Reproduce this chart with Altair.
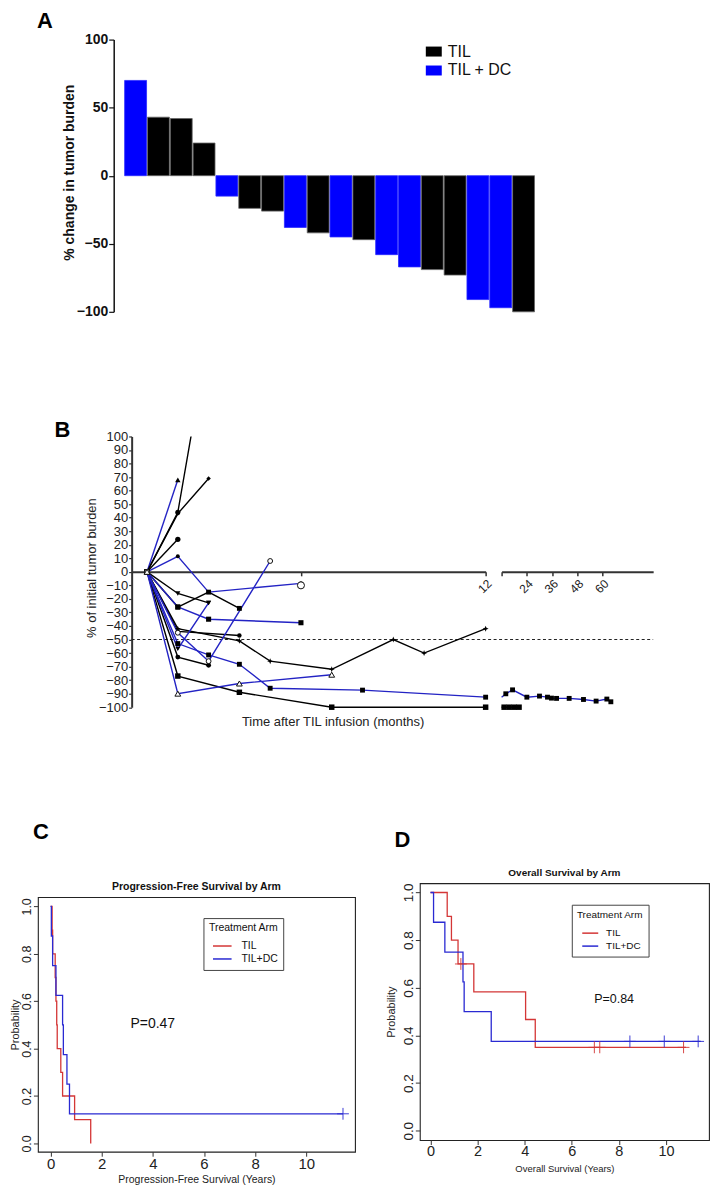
import altair as alt
import pandas as pd

FONT = "Liberation Sans, Arial, Helvetica, sans-serif"
NARROW = "Liberation Sans Narrow, Arial Narrow, Liberation Sans, Arial, sans-serif"

BLACK = "#000000"
BLUE_A = "#0000ff"
BLUE_B = "#2323c4"
RED_KM = "#d43636"
BLUE_KM = "#2a2ad2"

# ---------------- Panel A : waterfall of best response ----------------
wf_patient = [f"P{i:02d}" for i in range(1, 19)]
wf_arm = ["TIL + DC", "TIL", "TIL", "TIL", "TIL + DC", "TIL", "TIL", "TIL + DC", "TIL",
          "TIL + DC", "TIL", "TIL + DC", "TIL + DC", "TIL", "TIL", "TIL + DC", "TIL + DC", "TIL"]
wf_change = [70, 43, 42, 24, -15, -24, -26, -38, -42, -45, -47, -58, -67, -69, -73, -91, -97, -100]
wf_ticks = [-100, -50, 0, 50, 100]

# ---------------- Panel B : spider plot (months, % of initial burden) ----------------
til1_m = [1, 2, 3];                    til1_p = [0, 44, 175]
til2_m = [1, 2, 3];                    til2_p = [0, 43, 69]
til3_m = [1, 2];                       til3_p = [0, 24]
til4_m = [1, 2, 3];                    til4_p = [0, -16, -23]
til5_m = [1, 2, 3, 4];                 til5_p = [0, -26, -15, -27]
til6_m = [1, 2, 4];                    til6_p = [0, -44, -47]
til7_m = [1, 2, 4, 5, 7, 9, 10, 12];   til7_p = [0, -42, -51, -66, -72, -50, -60, -42]
til8_m = [1, 2, 3];                    til8_p = [0, -63, -69]
til9_m = [1, 2, 4, 7, 12];             til9_p = [0, -77, -89, -100, -100]
til9_late_m = [12, 13.2, 15.6, 18, 20.3]
til9_late_p = [-100, -100, -100, -100, -100]

dc1_m = [1, 2];                        dc1_p = [0, 68]
dc2_m = [1, 2, 3, 6];                  dc2_p = [0, 11.5, -15, -8.5]
dc3_m = [1, 2, 3, 6];                  dc3_p = [0, -26, -35, -37.6]
dc4_m = [1, 2, 3];                     dc4_p = [0, -57, -23]
dc5_m = [1, 2, 3, 5];                  dc5_p = [0, -45, -66, 8]
dc6_m = [1, 2, 3, 4, 5, 8, 12];        dc6_p = [0, -53, -61.4, -68.3, -86, -87.4, -92.6]
dc6_late_m = [12, 14, 17.2, 24, 30, 33.8, 35.7, 38.1, 44.1, 50.9, 56.9, 62, 63.9]
dc6_late_p = [-92.6, -90.1, -87.2, -92.6, -91.8, -92.6, -93.3, -93.5, -93.5, -94.3, -95.5, -94, -96]
dc7_m = [1, 2, 4, 7];                  dc7_p = [0, -90, -82.5, -76]
dc8_m = [6];                           dc8_p = [-10]

early_ticks = [6, 12]
late_ticks = [12, 24, 36, 48, 60]
spider_ticks = list(range(-100, 101, 10))
response_cut = [-50]

# ---------------- Panels C / D : Kaplan-Meier ----------------
pfs_til_yr = [0, 0.06, 0.08, 0.18, 0.21, 0.24, 0.26, 0.40, 0.47, 0.94, 1.57]
pfs_til_s = [1.0, 0.9, 0.8, 0.7, 0.6, 0.5, 0.4, 0.3, 0.2, 0.1, 0.0]
pfs_dc_yr = [0, 0.03, 0.08, 0.21, 0.47, 0.50, 0.64, 0.74, 11.44]
pfs_dc_s = [1.0, 0.875, 0.75, 0.625, 0.5, 0.375, 0.25, 0.125, 0.125]
pfs_dc_cens_yr = [11.44]
pfs_dc_cens_s = [0.125]

os_til_yr = [0, 0.71, 0.89, 1.17, 1.84, 4.04, 4.45, 10.85]
os_til_s = [1.0, 0.9, 0.8, 0.7, 0.583, 0.467, 0.35, 0.35]
os_til_cens_yr = [1.29, 6.96, 7.19, 10.75]
os_til_cens_s = [0.7, 0.35, 0.35, 0.35]
os_dc_yr = [0, 0.13, 0.61, 1.38, 1.43, 2.58, 11.48]
os_dc_s = [1.0, 0.875, 0.75, 0.625, 0.5, 0.375, 0.375]
os_dc_cens_yr = [8.47, 9.93, 11.37]
os_dc_cens_s = [0.375, 0.375, 0.375]

km_ticks_x = [0, 2, 4, 6, 8, 10]
km_ticks_y = [0.0, 0.2, 0.4, 0.6, 0.8, 1.0]
pval_c = ["P=0.47"]; pval_c_pos = [4.0, 0.505]
pval_d = ["P=0.84"]; pval_d_pos = [7.8, 0.554]

# ---------------- styles ----------------
STAR = "M0,-1L0.28,-0.28L1,0L0.28,0.28L0,1L-0.28,0.28L-1,0L-0.28,-0.28Z"
RECT = "M-1,-0.625H1V0.625H-1Z"
CROSS = "M0,-1V1M-1,0H1"
LINE_C = "M-1.4,0H1.4"
LINE_D = "M-1.27,0H1.27"
marker_style = {
    "TIL1": ("circle", 26, True), "TIL2": ("diamond", 20, True), "TIL3": ("circle", 28, True),
    "TIL4": ("triangle-down", 26, True), "TIL5": ("square", 24, True), "TIL6": ("circle", 20, True),
    "TIL7": (STAR, 36, True), "TIL8": ("circle", 24, True), "TIL9": ("square", 30, True),
    "DC1": ("triangle-up", 30, True), "DC2": ("circle", 16, True), "DC3": ("square", 26, True),
    "DC4": ("triangle-down", 24, True), "DC5": ("circle", 24, False), "DC6": ("square", 24, True),
    "DC7": ("triangle-up", 34, False), "DC8": ("circle", 50, False),
}
clipped_series = ["TIL1"]

early_series = [
    ("TIL1", "TIL", til1_m, til1_p), ("TIL2", "TIL", til2_m, til2_p), ("TIL3", "TIL", til3_m, til3_p),
    ("TIL4", "TIL", til4_m, til4_p), ("TIL5", "TIL", til5_m, til5_p), ("TIL6", "TIL", til6_m, til6_p),
    ("TIL7", "TIL", til7_m, til7_p), ("TIL8", "TIL", til8_m, til8_p), ("TIL9", "TIL", til9_m, til9_p),
    ("DC1", "TIL + DC", dc1_m, dc1_p), ("DC2", "TIL + DC", dc2_m, dc2_p), ("DC3", "TIL + DC", dc3_m, dc3_p),
    ("DC4", "TIL + DC", dc4_m, dc4_p), ("DC5", "TIL + DC", dc5_m, dc5_p), ("DC6", "TIL + DC", dc6_m, dc6_p),
    ("DC7", "TIL + DC", dc7_m, dc7_p), ("DC8", "TIL + DC", dc8_m, dc8_p),
]
late_series = [("TIL9", "TIL", til9_late_m, til9_late_p), ("DC6", "TIL + DC", dc6_late_m, dc6_late_p)]


def long_table(series):
    rows = []
    for pid, arm, ms, ps in series:
        shape, size, filled = marker_style[pid]
        for m, p in zip(ms, ps):
            rows.append({"pid": pid, "arm": arm, "t": m, "v": p,
                         "shape": shape, "size": size, "filled": filled})
    return pd.DataFrame(rows)


dfB_early = long_table(early_series)
dfB_late = long_table(late_series)
dfB_early_pts = dfB_early[dfB_early["v"] <= 100]
dfB_late_pts = dfB_late[dfB_late["t"] > 12]


def km_table(parts):
    rows = []
    for arm, ts, ss in parts:
        for t, s in zip(ts, ss):
            rows.append({"arm": arm, "t": t, "s": s})
    return pd.DataFrame(rows)


def spacer(w, h, letters=()):
    base = alt.Chart(pd.DataFrame({"label": [""]})).mark_text(
        baseline="top", align="left", fontSize=1).encode(
        text="label:N", x=alt.value(0), y=alt.value(0))
    layers = [base]
    for txt, px, py, bl in letters:
        layers.append(alt.Chart(pd.DataFrame({"label": [txt]})).mark_text(
            fontSize=22, fontWeight="bold", font=FONT, align="center", baseline=bl,
            color="#000").encode(text="label:N", x=alt.value(px), y=alt.value(py)))
    return alt.layer(*layers).properties(width=w, height=h)


# ================= Panel A =================
dfA = pd.DataFrame({"patient": wf_patient, "arm": wf_arm, "change": wf_change})
chartA = alt.Chart(dfA).mark_bar(strokeWidth=0.8).encode(
    x=alt.X("patient:O", sort=None, axis=None,
            scale=alt.Scale(paddingInner=0.04, paddingOuter=0.48)),
    y=alt.Y("change:Q", scale=alt.Scale(domain=[-100, 100], nice=False),
            axis=alt.Axis(values=wf_ticks, tickSize=5, tickWidth=1.2, tickColor="#111",
                          domainColor="#111", domainWidth=1.5, labelFontSize=14,
                          labelFontWeight="bold", labelFont=FONT, labelColor="#111",
                          labelPadding=1, grid=False, title="% change in tumor burden",
                          titleFontSize=14, titleFontWeight="bold", titleFont=FONT,
                          titleColor="#111", titleX=-44, titleY=133, titleAngle=270,
                          titleAlign="center", titleBaseline="middle")),
    color=alt.Color("arm:N", scale=alt.Scale(domain=["TIL", "TIL + DC"], range=[BLACK, BLUE_A]),
                    legend=alt.Legend(title=None, orient="none", legendX=313, legendY=4,
                                      symbolType=RECT, symbolSize=256, symbolStrokeWidth=0,
                                      labelFontSize=16, labelFont=FONT, labelColor="#111",
                                      labelOffset=6, rowPadding=3, padding=0)),
    stroke=alt.condition(alt.datum.arm == "TIL", alt.value("#666666"), alt.value("#2a2aff")),
).properties(width=433, height=273)

# ================= Panel B =================
HB = 271.5
Y0_OFF = -HB / 2
yB = alt.Y("v:Q", scale=alt.Scale(domain=[-100, 100], nice=False, zero=False),
           axis=alt.Axis(values=spider_ticks, tickSize=3, tickWidth=1.2, tickColor="#333",
                         domainColor="#333", domainWidth=2, labelFontSize=13, labelFont=FONT,
                         labelColor="#222", labelPadding=1, labelOverlap=False, grid=False,
                         title="% of initial tumor burden", titleFontSize=13,
                         titleFontWeight="normal", titleFont=FONT, titleColor="#222",
                         titleX=-40.7, titleY=131.5, titleAngle=270, titleAlign="center",
                         titleBaseline="middle"))
yB_right = alt.Y("v:Q", scale=alt.Scale(domain=[-100, 100], nice=False, zero=False), axis=None)

xB_left = alt.X("t:Q", scale=alt.Scale(domain=[0.5, 12], nice=False, zero=False),
                axis=alt.Axis(values=early_ticks, labelExpr="datum.value == 12 ? '12' : ''",
                              labelAngle=-45, offset=Y0_OFF, tickSize=4, tickWidth=1.5,
                              tickColor="#333", domainColor="#333", domainWidth=2,
                              labelFontSize=12, labelColor="#222", labelFont=FONT,
                              labelPadding=2, grid=False, title=None))
xB_right = alt.X("t:Q", scale=alt.Scale(domain=[12, 84], nice=False, zero=False),
                 axis=alt.Axis(values=late_ticks, labelExpr="datum.value == 12 ? '' : datum.label",
                               labelAngle=-45, offset=Y0_OFF, tickSize=4, tickWidth=1.5,
                               tickColor="#333", domainColor="#333", domainWidth=2,
                               labelFontSize=12, labelColor="#222", labelFont=FONT,
                               labelPadding=2, grid=False, title=None))

colorB = alt.Color("arm:N", scale=alt.Scale(domain=["TIL", "TIL + DC"], range=[BLACK, BLUE_B]),
                   legend=None)


def spider_layers(df_lines, df_pts, xenc, yenc):
    inside = df_lines[~df_lines["pid"].isin(clipped_series)]
    beyond = df_lines[df_lines["pid"].isin(clipped_series)]
    layers = [
        alt.Chart(inside).mark_line(strokeWidth=1.4).encode(
            x=xenc, y=yenc, color=colorB, detail="pid:N", order="t:Q"),
    ]
    if len(beyond):
        layers.append(alt.Chart(beyond).mark_line(strokeWidth=1.4, clip=True).encode(
            x=xenc, y=yenc, color=colorB, detail="pid:N", order="t:Q"))
    layers.append(alt.Chart(df_pts[df_pts["filled"]]).mark_point(
        filled=True, color="#000", opacity=1).encode(
        x=xenc, y=yenc, shape=alt.Shape("shape:N", scale=None), size=alt.Size("size:Q", scale=None)))
    hollow = df_pts[~df_pts["filled"]]
    if len(hollow):
        layers.append(alt.Chart(hollow).mark_point(
            filled=False, fill="white", stroke="#111", strokeWidth=1, opacity=1).encode(
            x=xenc, y=yenc, shape=alt.Shape("shape:N", scale=None),
            size=alt.Size("size:Q", scale=None)))
    return layers


cut_rule = alt.Chart(pd.DataFrame({"v": response_cut})).mark_rule(
    strokeDash=[3, 2.5], strokeWidth=1, color="#222").encode(
    y=yB, x=alt.value(0), x2=alt.value(523))
xlab = alt.Chart(pd.DataFrame({"label": ["Time after TIL infusion (months)"]})).mark_text(
    fontSize=13, font=FONT, color="#222", align="center", baseline="middle").encode(
    text="label:N", x=alt.value(202), y=alt.value(286))

chartB_left = alt.layer(cut_rule, *spider_layers(dfB_early, dfB_early_pts, xB_left, yB), xlab).properties(
    width=355, height=HB)
chartB_right = alt.layer(*spider_layers(dfB_late, dfB_late_pts, xB_right, yB_right)).properties(
    width=152, height=HB)

# ================= Panels C / D =================


def km_chart(lines_df, cens_df, ptxt, ppos, pfont, xdom, ydom, w, h, title, title_size, xtitle,
             xtitle_size, xlab_size, ylab_size, xtitle_pos, ytitle_pos, legx, legy, leg_font,
             sym_path, sym_size, lab_off, sym_off, title_pad):
    xenc = alt.X("t:Q", scale=alt.Scale(domain=xdom, nice=False, zero=False),
                 axis=alt.Axis(values=km_ticks_x, tickSize=4.5, tickColor="#333", tickWidth=1,
                               labelPadding=0, labelFontSize=xlab_size, labelFont=NARROW,
                               labelColor="#222", domain=False, grid=False, labelOverlap=False,
                               title=xtitle, titleFontSize=xtitle_size, titleFont=NARROW,
                               titleFontWeight="normal", titleColor="#222",
                               titleX=xtitle_pos[0], titleY=xtitle_pos[1], titleAlign="center",
                               titleBaseline="middle"))
    yenc = alt.Y("s:Q", scale=alt.Scale(domain=ydom, nice=False, zero=False),
                 axis=alt.Axis(values=km_ticks_y, format=".1f", labelAngle=270, labelAlign="center",
                               labelBaseline="alphabetic", labelFontSize=ylab_size, labelFont=FONT,
                               labelPadding=3, tickSize=4.5, tickColor="#333", tickWidth=1,
                               labelColor="#222", domain=False, grid=False, labelOverlap=False,
                               title="Probability", titleFontSize=11, titleFontWeight="normal",
                               titleFont=FONT, titleColor="#222", titleX=ytitle_pos[0],
                               titleY=ytitle_pos[1], titleAngle=270, titleAlign="center",
                               titleBaseline="middle"))
    leg = alt.Legend(title="Treatment Arm", orient="none", legendX=legx, legendY=legy,
                     strokeColor="#444", fillColor="white", padding=5, cornerRadius=0,
                     titleFont=NARROW, titleFontSize=leg_font, titleFontWeight="normal",
                     titleColor="#111", titleAnchor="middle", titlePadding=title_pad,
                     labelFont=NARROW, labelFontSize=leg_font, labelColor="#111",
                     symbolType=sym_path, symbolSize=sym_size, symbolStrokeWidth=1.5,
                     labelOffset=lab_off, rowPadding=0, symbolOffset=sym_off)
    lines = alt.Chart(lines_df).mark_line(interpolate="step-after", strokeWidth=1.3).encode(
        x=xenc, y=yenc,
        color=alt.Color("arm:N", scale=alt.Scale(domain=["TIL", "TIL+DC"], range=[RED_KM, BLUE_KM]),
                        legend=leg),
        order="t:Q")
    cens = alt.Chart(cens_df).mark_point(shape=CROSS, filled=False, size=140, strokeWidth=1,
                                         opacity=0.9).encode(
        x=xenc, y=yenc,
        stroke=alt.Stroke("arm:N", scale=alt.Scale(domain=["TIL", "TIL+DC"], range=[RED_KM, BLUE_KM]),
                          legend=None))
    ptext = alt.Chart(pd.DataFrame({"t": [ppos[0]], "s": [ppos[1]], "label": ptxt})).mark_text(
        fontSize=pfont, font=NARROW, color="#111", align="center", baseline="middle").encode(
        x=xenc, y=yenc, text="label:N")
    return alt.layer(lines, cens, ptext).resolve_scale(stroke="independent").properties(
        width=w, height=h,
        title=alt.TitleParams(title, font=NARROW, fontSize=title_size, fontWeight="bold",
                              color="#111", offset=5, anchor="middle"),
        view=alt.ViewBackground(stroke="#222", strokeWidth=1.1, fill="white"))


dfC_lines = km_table([("TIL", pfs_til_yr, pfs_til_s), ("TIL+DC", pfs_dc_yr, pfs_dc_s)])
dfC_cens = km_table([("TIL+DC", pfs_dc_cens_yr, pfs_dc_cens_s)])
dfD_lines = km_table([("TIL", os_til_yr, os_til_s), ("TIL+DC", os_dc_yr, os_dc_s)])
dfD_cens = km_table([("TIL", os_til_cens_yr, os_til_cens_s), ("TIL+DC", os_dc_cens_yr, os_dc_cens_s)])

chartC = km_chart(dfC_lines, dfC_cens, pval_c, pval_c_pos, 14, [-0.4955, 11.91], [-0.035, 1.039],
                  318, 255.3, "Progression-Free Survival by Arm", 10.5,
                  "Progression-Free Survival (Years)", 10.5,
                  15, 12.5, (159, 27.5), (-22.5, 127.7), 166, 21, 10.5,
                  LINE_C, 177, 11.7, 6.4, 5)
chartD = km_chart(dfD_lines, dfD_cens, pval_d, pval_d_pos, 12.5, [-0.453, 11.83], [-0.039, 1.039],
                  290, 257.6, "Overall Survival by Arm", 10, "Overall Survival (Years)", 9.5,
                  14.5, 13.5, (145, 29), (-28.3, 128.8), 152.4, 21.6, 10,
                  LINE_D, 159, 8.4, 5, 6)

# ================= layout =================
rowA = alt.hconcat(spacer(104, 1), chartA, spacing=0, bounds="flush").resolve_scale(
    color="independent", stroke="independent")
rowB = alt.hconcat(spacer(122, 1), chartB_left, spacer(15.7, 1), chartB_right,
                   spacing=0, bounds="flush")
rowD = alt.hconcat(spacer(410.3, 1), chartD, spacing=0, bounds="flush").resolve_scale(
    color="independent", stroke="independent")
rowC = alt.hconcat(spacer(28, 1), chartC, spacing=0, bounds="flush").resolve_scale(
    color="independent", stroke="independent")

chart = alt.vconcat(
    spacer(1, 28.7, [("A", 35, 0, "top")]),
    rowA,
    spacer(1, 397.3, [("B", 52.5, 398.3, "alphabetic")]),
    rowB,
    spacer(1, 447.7, [("C", 31, 403.3, "alphabetic"), ("D", 393.5, 411.7, "alphabetic")]),
    rowD,
    spacer(1, 14),
    rowC,
    spacing=0, bounds="flush", padding=0,
).resolve_scale(color="independent", stroke="independent").configure(
    font=FONT).configure_view(stroke=None)

chart.save("out.html", embed_options={"renderer": "svg", "actions": False})
